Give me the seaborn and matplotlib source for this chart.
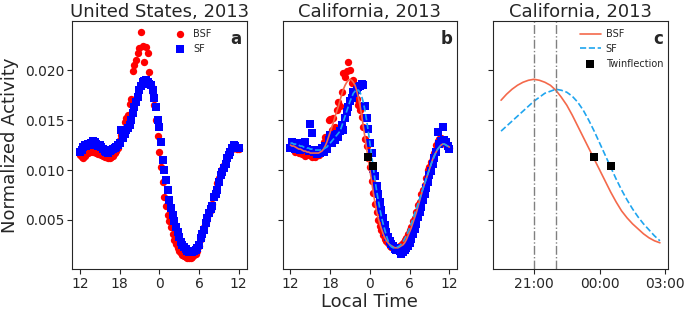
import numpy as np
import pandas as pd
import seaborn as sns
import matplotlib
matplotlib.use("Agg")
import matplotlib.pyplot as plt

# hours after midnight of the first day: 12 = noon, 24 = midnight, 36 = next noon
hours = np.arange(12.0, 36.01, 0.25)

# panel a: United States, 2013
us_bsf = [
    0.0115, 0.0113, 0.0112, 0.0114, 0.0116, 0.0117, 0.0118, 0.0119, 0.0118, 0.0119,
    0.0117, 0.0116, 0.0117, 0.0115, 0.0114, 0.0113, 0.0113, 0.0112, 0.0112, 0.0113,
    0.0114, 0.0117, 0.0119, 0.0122, 0.0130, 0.0135, 0.0140, 0.0148, 0.0152, 0.0155,
    0.0166, 0.0171, 0.0199, 0.0205, 0.0210, 0.0217, 0.0222, 0.0238, 0.0224, 0.0208,
    0.0223, 0.0217, 0.0198, 0.0185, 0.0176, 0.0165, 0.0150, 0.0134, 0.0118, 0.0103,
    0.0088, 0.0073, 0.0064, 0.0055, 0.0049, 0.0043, 0.0036, 0.0030, 0.0026, 0.0022,
    0.0019, 0.0017, 0.0015, 0.0014, 0.0013, 0.0012, 0.0012, 0.0012, 0.0013, 0.0015,
    0.0016, 0.0019, 0.0024, 0.0031, 0.0038, 0.0043, 0.0048, 0.0053, 0.0057, 0.0060,
    0.0066, 0.0073, 0.0080, 0.0087, 0.0092, 0.0098, 0.0101, 0.0105, 0.0110, 0.0114,
    0.0117, 0.0119, 0.0121, 0.0122, 0.0123, 0.0121, 0.0121,
]
us_sf = [
    0.0118, 0.0120, 0.0123, 0.0125, 0.0124, 0.0126, 0.0125, 0.0127, 0.0129, 0.0128,
    0.0126, 0.0124, 0.0125, 0.0123, 0.0121, 0.0119, 0.0118, 0.0117, 0.0119, 0.0120,
    0.0121, 0.0122, 0.0123, 0.0125, 0.0127, 0.0140, 0.0132, 0.0136, 0.0140, 0.0142,
    0.0145, 0.0150, 0.0157, 0.0163, 0.0168, 0.0173, 0.0180, 0.0184, 0.0188, 0.0189,
    0.0190, 0.0188, 0.0186, 0.0185, 0.0180, 0.0172, 0.0163, 0.0150, 0.0143, 0.0128,
    0.0110, 0.0100, 0.0090, 0.0080, 0.0070, 0.0062, 0.0055, 0.0049, 0.0043, 0.0038,
    0.0033, 0.0028, 0.0025, 0.0023, 0.0021, 0.0019, 0.0018, 0.0018, 0.0018, 0.0019,
    0.0020, 0.0022, 0.0025, 0.0032, 0.0036, 0.0040, 0.0047, 0.0052, 0.0057, 0.0061,
    0.0064, 0.0073, 0.0076, 0.0080, 0.0088, 0.0095, 0.0098, 0.0102, 0.0106, 0.0112,
    0.0115, 0.0118, 0.0122, 0.0125, 0.0124, 0.0122, 0.0122,
]

# panel b: California, 2013 (measured)
ca_bsf = [
    0.0124, 0.0128, 0.0121, 0.0118, 0.0123, 0.0117, 0.0120, 0.0116, 0.0121, 0.0114,
    0.0118, 0.0115, 0.0119, 0.0113, 0.0116, 0.0113, 0.0117, 0.0115, 0.0118, 0.0121,
    0.0128, 0.0133, 0.0131, 0.0150, 0.0151, 0.0140, 0.0152, 0.0143, 0.0160, 0.0168,
    0.0164, 0.0178, 0.0197, 0.0193, 0.0199, 0.0208, 0.0200, 0.0187, 0.0190, 0.0176,
    0.0171, 0.0165, 0.0160, 0.0153, 0.0143, 0.0131, 0.0124, 0.0112, 0.0103, 0.0089,
    0.0077, 0.0066, 0.0058, 0.0050, 0.0044, 0.0040, 0.0035, 0.0031, 0.0029, 0.0027,
    0.0024, 0.0023, 0.0022, 0.0021, 0.0023, 0.0022, 0.0024, 0.0025, 0.0027, 0.0030,
    0.0032, 0.0036, 0.0040, 0.0043, 0.0049, 0.0052, 0.0058, 0.0065, 0.0068, 0.0076,
    0.0080, 0.0085, 0.0092, 0.0100, 0.0103, 0.0108, 0.0112, 0.0117, 0.0125, 0.0129,
    0.0131, 0.0132, 0.0130, 0.0127, 0.0125, 0.0123, 0.0122,
]
ca_sf = [
    0.0122, 0.0128, 0.0125, 0.0121, 0.0127, 0.0124, 0.0120, 0.0126, 0.0123, 0.0128,
    0.0121, 0.0119, 0.0146, 0.0137, 0.0118, 0.0120, 0.0116, 0.0119, 0.0117, 0.0122,
    0.0118, 0.0124, 0.0121, 0.0130, 0.0135, 0.0127, 0.0132, 0.0130, 0.0136, 0.0133,
    0.0139, 0.0145, 0.0140, 0.0152, 0.0158, 0.0163, 0.0169, 0.0172, 0.0178, 0.0177,
    0.0180, 0.0183, 0.0184, 0.0186, 0.0185, 0.0164, 0.0152, 0.0141, 0.0127, 0.0117,
    0.0101, 0.0094, 0.0084, 0.0076, 0.0068, 0.0060, 0.0052, 0.0045, 0.0038, 0.0033,
    0.0029, 0.0026, 0.0024, 0.0021, 0.0020, 0.0022, 0.0019, 0.0016, 0.0018, 0.0020,
    0.0022, 0.0024, 0.0027, 0.0031, 0.0036, 0.0041, 0.0046, 0.0053, 0.0058, 0.0063,
    0.0070, 0.0076, 0.0082, 0.0088, 0.0095, 0.0099, 0.0106, 0.0112, 0.0118, 0.0138,
    0.0126, 0.0129, 0.0143, 0.0130, 0.0128, 0.0124, 0.0121,
]

# smooth fits for California
fit_bsf = [
    0.0125, 0.0124, 0.0124, 0.0123, 0.0122, 0.0121, 0.0121, 0.0120, 0.0119, 0.0119,
    0.0118, 0.0118, 0.0117, 0.0117, 0.0117, 0.0117, 0.0117, 0.0117, 0.0118, 0.0119,
    0.0121, 0.0124, 0.0128, 0.0133, 0.0138, 0.0143, 0.0148, 0.0154, 0.0159, 0.0164,
    0.0170, 0.0176, 0.0181, 0.0185, 0.0188, 0.0190, 0.0191, 0.0190, 0.0188, 0.0185,
    0.0180, 0.0173, 0.0165, 0.0155, 0.0144, 0.0133, 0.0122, 0.0111, 0.0100, 0.0089,
    0.0078, 0.0068, 0.0059, 0.0052, 0.0046, 0.0041, 0.0036, 0.0032, 0.0029, 0.0027,
    0.0025, 0.0024, 0.0023, 0.0022, 0.0022, 0.0022, 0.0023, 0.0024, 0.0025, 0.0027,
    0.0030, 0.0034, 0.0038, 0.0042, 0.0047, 0.0052, 0.0057, 0.0063, 0.0069, 0.0075,
    0.0081, 0.0086, 0.0091, 0.0096, 0.0101, 0.0106, 0.0111, 0.0115, 0.0118, 0.0121,
    0.0123, 0.0125, 0.0126, 0.0126, 0.0125, 0.0124, 0.0123,
]
fit_sf = [
    0.0127, 0.0127, 0.0126, 0.0126, 0.0125, 0.0125, 0.0124, 0.0124, 0.0123, 0.0123,
    0.0122, 0.0122, 0.0121, 0.0121, 0.0120, 0.0120, 0.0120, 0.0120, 0.0120, 0.0121,
    0.0121, 0.0122, 0.0123, 0.0125, 0.0127, 0.0129, 0.0131, 0.0133, 0.0135, 0.0137,
    0.0139, 0.0144, 0.0149, 0.0154, 0.0159, 0.0164, 0.0169, 0.0173, 0.0177, 0.0179,
    0.0181, 0.0180, 0.0178, 0.0174, 0.0168, 0.0160, 0.0150, 0.0139, 0.0127, 0.0115,
    0.0103, 0.0091, 0.0080, 0.0070, 0.0061, 0.0053, 0.0046, 0.0040, 0.0034, 0.0029,
    0.0025, 0.0023, 0.0022, 0.0022, 0.0022, 0.0023, 0.0024, 0.0026, 0.0028, 0.0031,
    0.0034, 0.0038, 0.0042, 0.0046, 0.0051, 0.0056, 0.0061, 0.0066, 0.0071, 0.0076,
    0.0081, 0.0086, 0.0091, 0.0096, 0.0101, 0.0106, 0.0110, 0.0114, 0.0118, 0.0121,
    0.0123, 0.0125, 0.0126, 0.0126, 0.0125, 0.0124, 0.0123,
]

# twinflection points (hour, value) and peak times
twin_hours = [23.75, 24.5]
twin_vals = [0.0113, 0.0104]
peak_hours = [21.0, 22.0]

zoom_start, zoom_end = 19.5, 26.75

day_ticks = [12, 18, 24, 30, 36]
day_labels = ["12", "18", "0", "6", "12"]
zoom_ticks = [21, 24, 27]
zoom_labels = ["21:00", "00:00", "03:00"]

df = pd.DataFrame({
    "hour": hours,
    "us_bsf": us_bsf, "us_sf": us_sf,
    "ca_bsf": ca_bsf, "ca_sf": ca_sf,
    "fit_bsf": fit_bsf, "fit_sf": fit_sf,
})
zoom = df[(df.hour >= zoom_start) & (df.hour <= zoom_end)]

sns.set_style("ticks")
plt.rcParams["font.family"] = ["DejaVu Sans"]

fig, axes = plt.subplots(1, 3, figsize=(6.85, 3.11), dpi=100, sharey=True)
fig.subplots_adjust(left=0.105, right=0.975, top=0.932, bottom=0.135, wspace=0.205)

c_bsf_fit = "#f4694b"
c_sf_fit = "#1fa5ef"

# a
ax = axes[0]
sns.scatterplot(data=df, x="hour", y="us_bsf", ax=ax, color="red", marker="o",
                s=28, linewidth=0, label="BSF")
sns.scatterplot(data=df, x="hour", y="us_sf", ax=ax, color="blue", marker="s",
                s=28, linewidth=0, label="SF")
ax.legend(loc="upper left", bbox_to_anchor=(0.52, 1.0), frameon=False,
          fontsize=7, handletextpad=0.3, borderaxespad=0.4)
ax.set_title("United States, 2013", fontsize=13, pad=3)
ax.set_ylabel("Normalized Activity", fontsize=13)

# b
ax = axes[1]
sns.scatterplot(data=df, x="hour", y="ca_bsf", ax=ax, color="red", marker="o",
                s=28, linewidth=0)
sns.scatterplot(data=df, x="hour", y="ca_sf", ax=ax, color="blue", marker="s",
                s=28, linewidth=0)
sns.lineplot(data=df, x="hour", y="fit_bsf", ax=ax, color=c_bsf_fit, lw=1.2)
sns.lineplot(data=df, x="hour", y="fit_sf", ax=ax, color=c_sf_fit, lw=1.2, ls="--")
ax.scatter(twin_hours, twin_vals, color="black", marker="s", s=28, zorder=5, linewidths=0)
ax.set_title("California, 2013", fontsize=13, pad=3)
ax.set_xlabel("Local Time", fontsize=13, labelpad=2)

for ax in axes[:2]:
    ax.set_xticks(day_ticks)
    ax.set_xticklabels(day_labels)

# c
ax = axes[2]
sns.lineplot(data=zoom, x="hour", y="fit_bsf", ax=ax, color=c_bsf_fit, lw=1.2, label="BSF")
sns.lineplot(data=zoom, x="hour", y="fit_sf", ax=ax, color=c_sf_fit, lw=1.2, ls="--", label="SF")
ax.scatter(twin_hours, twin_vals, color="black", marker="s", s=28, zorder=5,
           linewidths=0, label="Twinflection")
for h in peak_hours:
    ax.axvline(h, color="gray", ls="-.", lw=1)
ax.set_xticks(zoom_ticks)
ax.set_xticklabels(zoom_labels)
ax.legend(loc="upper left", bbox_to_anchor=(0.45, 1.0), frameon=False,
          fontsize=7, handletextpad=0.5, borderaxespad=0.4, handlelength=2.2)
ax.set_title("California, 2013", fontsize=13, pad=3)

for ax, letter in zip(axes, "abc"):
    ax.text(0.97, 0.965, letter, transform=ax.transAxes, ha="right", va="top",
            fontsize=12, fontweight="bold")
    ax.tick_params(labelsize=10, length=3.5, pad=2)
    if ax is not axes[1]:
        ax.set_xlabel("")
    if ax is not axes[0]:
        ax.set_ylabel("")

axes[0].set_yticks([0.005, 0.010, 0.015, 0.020])
axes[0].set_yticklabels(["0.005", "0.010", "0.015", "0.020"])

fig.savefig("out.png", dpi=100)
